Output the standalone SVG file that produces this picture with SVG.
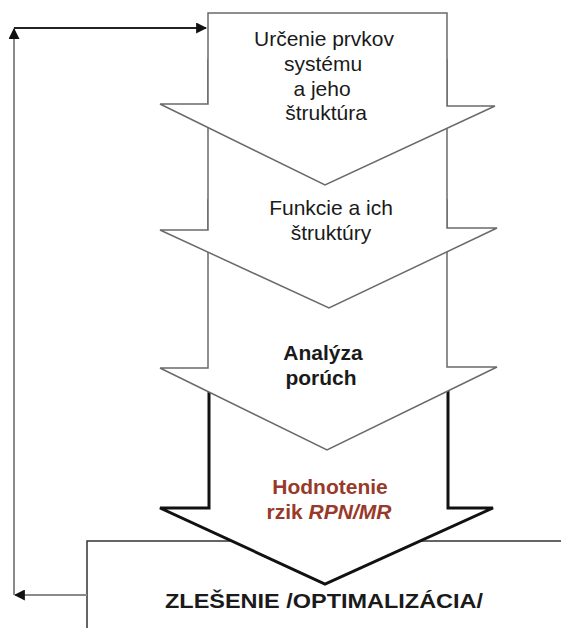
<svg xmlns="http://www.w3.org/2000/svg" width="561" height="628" viewBox="0 0 561 628">
  <style>
    .lbl { font-family: "Liberation Sans", Arial, sans-serif; font-size: 21px; fill: #1a1a1a; text-anchor: middle; }
    .bold { font-weight: bold; }
    .risk { fill: #983a2a; font-weight: bold; }
    .step { fill: #ffffff; stroke: #6a6a6a; stroke-width: 1.5; stroke-linejoin: miter; }
    .final { fill: #ffffff; stroke: #111111; stroke-width: 3; stroke-linejoin: miter; }
    .box { fill: #ffffff; stroke: #333333; stroke-width: 1.5; }
    .link { fill: none; stroke-width: 2; }
  </style>
  <defs>
    <marker id="head" viewBox="0 0 10 10" refX="9" refY="5" markerWidth="5.5" markerHeight="5.5" orient="auto" markerUnits="strokeWidth">
      <path d="M0,0 L10,5 L0,10 z" fill="#111111"/>
    </marker>
  </defs>
  <rect width="561" height="628" fill="#ffffff"/>

  <!-- outcome box, partly covered by the last arrow -->
  <g id="node-optimalizacia">
    <rect class="box" x="87" y="541" width="500" height="100"/>
    <text class="lbl bold" x="324" y="608" font-size="22" textLength="318" lengthAdjust="spacingAndGlyphs">ZLEŠENIE /OPTIMALIZÁCIA/</text>
  </g>

  <!-- step 4: risk evaluation (bold outline) -->
  <g id="node-hodnotenie">
    <path class="final" d="M209,376 L448,376 L448,508 L493,508 L325,584 L160,508 L209,508 Z"/>
    <text class="lbl risk" x="330" y="494">Hodnotenie</text>
    <text class="lbl risk" x="329" y="519">rzik <tspan font-style="italic">RPN/MR</tspan></text>
  </g>

  <!-- step 3: failure analysis -->
  <g id="node-analyza">
    <path class="step" d="M208,200 L447,200 L447,367 L497,367 L327,450 L160,368 L208,368 Z"/>
    <text class="lbl bold" x="323" y="360">Analýza</text>
    <text class="lbl bold" x="321" y="385">porúch</text>
  </g>

  <!-- step 2: functions -->
  <g id="node-funkcie">
    <path class="step" d="M208,60 L447,60 L447,228 L497,228 L329,308 L160,230 L208,230 Z"/>
    <text class="lbl" x="331" y="215">Funkcie a ich</text>
    <text class="lbl" x="331" y="240">štruktúry</text>
  </g>

  <!-- step 1: system elements -->
  <g id="node-prvky">
    <path class="step" d="M208,13 L447,13 L447,106 L495,106 L325,185 L160,104 L208,104 Z"/>
    <text class="lbl" x="324" y="46">Určenie prvkov</text>
    <text class="lbl" x="323" y="71">systému</text>
    <text class="lbl" x="322" y="96">a jeho</text>
    <text class="lbl" x="326" y="120">štruktúra</text>
  </g>

  <!-- feedback loop back to the first step -->
  <g id="connectors">
    <line class="link" x1="87" y1="595" x2="15" y2="595" stroke="#8a8a8a" marker-end="url(#head)"/>
    <line class="link" x1="14" y1="595" x2="14" y2="29" stroke="#8a8a8a" marker-end="url(#head)"/>
    <line class="link" x1="14" y1="28" x2="206" y2="28" stroke="#222222" marker-end="url(#head)"/>
  </g>
</svg>
